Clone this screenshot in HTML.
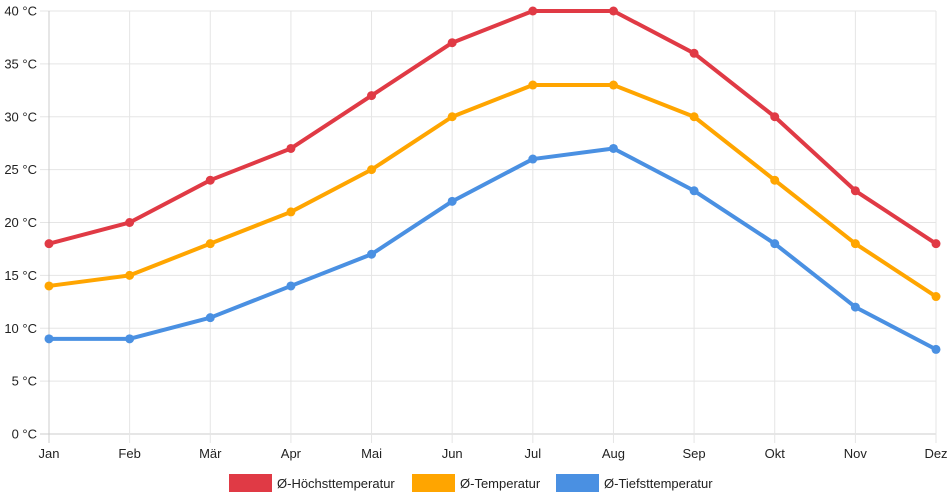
<!DOCTYPE html>
<html><head><meta charset="utf-8"><style>
html,body{margin:0;padding:0;background:#fff;}
svg{display:block;font-family:"Liberation Sans",Arial,sans-serif;}
</style></head><body>
<svg id="chart" width="952" height="500"></svg>
<script>
const months=["Jan","Feb","Mär","Apr","Mai","Jun","Jul","Aug","Sep","Okt","Nov","Dez"];
const maxTemp=[18,20,24,27,32,37,40,40,36,30,23,18];
const avgTemp=[14,15,18,21,25,30,33,33,30,24,18,13];
const minTemp=[9,9,11,14,17,22,26,27,23,18,12,8];
const yTicks=[0,5,10,15,20,25,30,35,40];
const seriesNames=["Ø-Höchsttemperatur","Ø-Temperatur","Ø-Tiefsttemperatur"];
const NS="http://www.w3.org/2000/svg";
const svg=document.getElementById('chart');
const x0=49,x1=936,yTop=11,yBot=434;
function xs(i){return x0+i*(x1-x0)/(months.length-1);}
function ys(v){return yBot-(v-0)/(40-0)*(yBot-yTop);}
function mk(t,a,p){const e=document.createElementNS(NS,t);for(const k in a)e.setAttribute(k,a[k]);(p||svg).appendChild(e);return e;}
const grid=mk('g',{});


yTicks.forEach(v=>{
 const l=mk('line',{x1:40,x2:x1,y1:ys(v),y2:ys(v),stroke:v===0?'#ccc':'#e5e5e5','stroke-width':1},grid);
 
 
 const t=mk('text',{x:37,y:ys(v)+4.5,'text-anchor':'end','font-size':13,fill:'#222'});
 t.textContent=v+' °C';
 
 
});
months.forEach((m,i)=>{
 const l=mk('line',{x1:xs(i),x2:xs(i),y1:yTop,y2:yBot+9,stroke:i===0?'#ccc':'#e5e5e5','stroke-width':1},grid);
 
 
 const t=mk('text',{x:xs(i),y:458,'text-anchor':'middle','font-size':13,fill:'#222'});
 t.textContent=m;
 
 
});
const series=[[maxTemp,'#e03a45','series-max'],[avgTemp,'#ffa500','series-avg'],[minTemp,'#4a90e2','series-min']];
series.forEach(([d,c,n])=>{
 const g=mk('g',{});
 
 
 const p=mk('polyline',{points:d.map((v,i)=>xs(i)+','+ys(v)).join(' '),fill:'none',stroke:c,'stroke-width':4,'stroke-linejoin':'round'},g);
 
 
 d.forEach((v,i)=>{
  const ci=mk('circle',{cx:xs(i),cy:ys(v),r:4.5,fill:c},g);
  
  
 });
});
const legX=[229,412,556];
seriesNames.forEach((s,i)=>{
 const g=mk('g',{});
 
 
 const r=mk('rect',{x:legX[i],y:474,width:43,height:18,fill:series[i][1]},g);
 
 
 const t=mk('text',{x:legX[i]+48,y:488,'font-size':13,fill:'#222'},g);
 t.textContent=s;
 
 
});
</script>
</body></html>
